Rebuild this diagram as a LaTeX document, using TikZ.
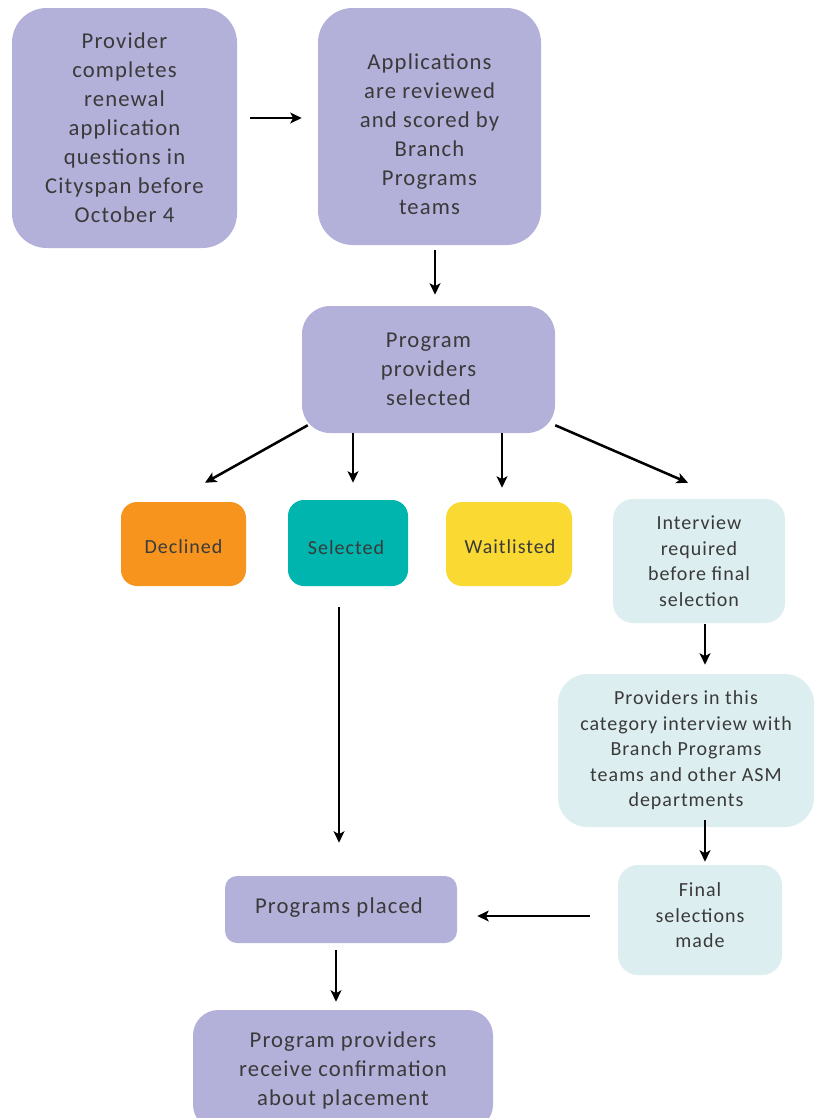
\documentclass[tikz,border=0pt]{standalone}
\usepackage{fontspec}
\setmainfont{Carlito}[LetterSpace=5]
\usetikzlibrary{arrows.meta}
\definecolor{lav}{HTML}{B3B0D9}
\definecolor{pale}{HTML}{DDEEF1}
\definecolor{orng}{HTML}{F7941E}
\definecolor{teal}{HTML}{00B5AD}
\definecolor{yell}{HTML}{F9D932}
\definecolor{txt}{HTML}{3A3A3A}
\tikzset{
  box/.style={draw=none, align=center, inner sep=0pt, text=txt},
  big/.style={font=\fontsize{17}{21.75}\selectfont},
  small/.style={font=\fontsize{15}{19.1}\selectfont},
  lbl/.style={align=center, inner sep=0pt, text=txt},
  arr/.style={line width=1.9pt, -{Stealth[length=8.5pt,width=8pt,inset=2pt]}}
}
\begin{document}
\begin{tikzpicture}[x=0.75pt,y=-0.75pt]
\useasboundingbox (0,0) rectangle (814,1118);
\clip (0,0) rectangle (814,1118);
\node[box,big,fill=lav,rounded corners=26pt,minimum width=225*0.75pt,minimum height=240*0.75pt] (b1) at (124.5,128)
  {Provider\\completes\\renewal\\application\\questions in\\Cityspan before\\October 4};
\node[box,fill=lav,rounded corners=26pt,minimum width=223*0.75pt,minimum height=237*0.75pt] (b2) at (429.5,126.5) {};
\node[lbl,big] (b2t) at (429.5,134.5)
  {Applications\\are reviewed\\and scored by\\Branch\\Programs\\teams};
\node[box,big,fill=lav,rounded corners=21pt,minimum width=253*0.75pt,minimum height=127*0.75pt] (b3) at (428.5,369.5)
  {Program\\providers\\selected};
\node[box,fill=orng,rounded corners=12pt,minimum width=125*0.75pt,minimum height=84*0.75pt] (dec) at (183.5,544) {};
\node[lbl,small] (dect) at (183.5,547) {Declined};
\node[box,fill=teal,rounded corners=12pt,minimum width=120*0.75pt,minimum height=86*0.75pt] (sel) at (348,543) {};
\node[lbl,small] (selt) at (346,548) {Selected};
\node[box,fill=yell,rounded corners=12pt,minimum width=126*0.75pt,minimum height=84*0.75pt] (wait) at (509,544) {};
\node[lbl,small] (waitt) at (510,547) {Waitlisted};
\node[box,small,fill=pale,rounded corners=15pt,minimum width=172*0.75pt,minimum height=124*0.75pt] (intv) at (699,561)
  {Interview\\required\\before final\\selection};
\node[box,small,fill=pale,rounded corners=22pt,minimum width=256*0.75pt,minimum height=153*0.75pt] (prov) at (686,750.5)
  {Providers in this\\category interview with\\Branch Programs\\teams and other ASM\\departments};
\node[box,fill=pale,rounded corners=15pt,minimum width=164*0.75pt,minimum height=110*0.75pt] (fin) at (700,920) {};
\node[lbl,small] (fint) at (700,915.5) {Final\\selections\\made};
\node[box,big,fill=lav,rounded corners=9pt,minimum width=232*0.75pt,minimum height=67*0.75pt] (placed) at (341,909.5) {};
\node[lbl,big] (placedt) at (339,907.5) {Programs placed};
\node[box,big,fill=lav,rounded corners=19pt,minimum width=300*0.75pt,minimum height=120*0.75pt] (conf) at (343,1070)
  {Program providers\\receive confirmation\\about placement};
\draw[arr] ([shift={(13,-10)}]b1.east) -- ([shift={(-16,-8.5)}]b2.west);
\draw[arr] ([shift={(5.5,5)}]b2.south) -- ([shift={(6.5,-11)}]b3.north);
\draw[arr] ([shift={(6,-8)}]b3.south west) -- ([shift={(21.5,-19)}]dec.north);
\draw[arr] ([shift={(-75.5,0)}]b3.south) -- ([shift={(5,-17)}]sel.north);
\draw[arr] ([shift={(73.5,0)}]b3.south) -- ([shift={(-7,-14)}]wait.north);
\draw[arr] ([shift={(0,-8)}]b3.south east) -- ([shift={(-11,-16)}]intv.north);
\draw[arr] ([shift={(6,1)}]intv.south) -- ([shift={(19,-9)}]prov.north);
\draw[arr] ([shift={(19,-7)}]prov.south) -- ([shift={(5,-3)}]fin.north);
\draw[arr] ([shift={(-28,-4)}]fin.west) -- ([shift={(20,6.5)}]placed.east);
\draw[arr] ([shift={(-9,21)}]sel.south) -- ([shift={(-2,-33)}]placed.north);
\draw[arr] ([shift={(-5,7)}]placed.south) -- ([shift={(-7,-8)}]conf.north);
\end{tikzpicture}
\end{document}
